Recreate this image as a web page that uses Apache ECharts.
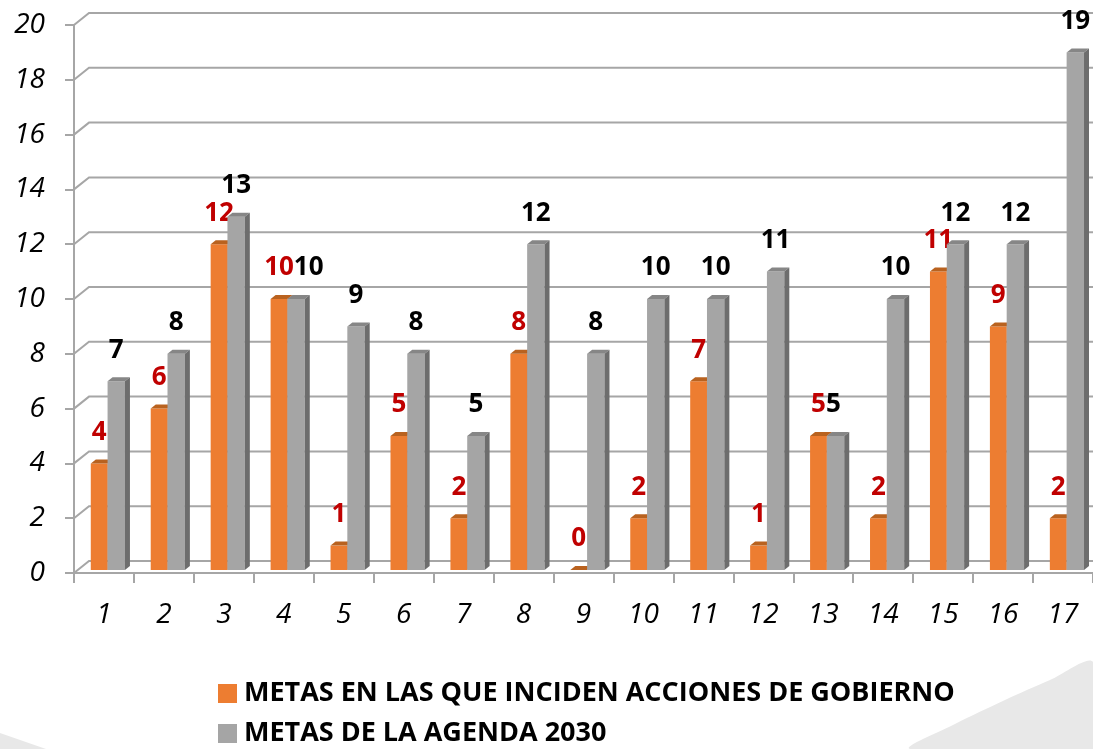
<!DOCTYPE html>
<html lang="es">
<head>
  <meta charset="UTF-8">
  <title>Metas Agenda 2030</title>
  <script src="https://cdn.jsdelivr.net/npm/echarts@6.0.0/dist/echarts.min.js"></script>
  <style>
    html, body { margin: 0; padding: 0; background: #fff; }
    #chart { width: 1093px; height: 749px; }
  </style>
</head>
<body>
<div id="chart"></div>
<script>
  // datos
  const categorias = ['1','2','3','4','5','6','7','8','9','10','11','12','13','14','15','16','17'];
  const metasGobierno = [4, 6, 12, 10, 1, 5, 2, 8, 0, 2, 7, 1, 5, 2, 11, 9, 2];
  const metasAgenda = [7, 8, 13, 10, 9, 8, 5, 12, 8, 10, 10, 11, 5, 10, 12, 12, 19];
  const yTicks = [0, 2, 4, 6, 8, 10, 12, 14, 16, 18, 20];

  const nombreGobierno = 'METAS EN LAS QUE INCIDEN ACCIONES DE GOBIERNO';
  const nombreAgenda = 'METAS DE LA AGENDA 2030';

  const labelFont = 'bold 26px "Open Sans", sans-serif';
  const axisFont = '"Open Sans", sans-serif';
  const gridColor = '#a6a6a6';

  // para medir etiquetas
  const ctx = document.createElement('canvas').getContext('2d');
  ctx.font = labelFont;
  const textWidth = t => ctx.measureText(t).width;

  // profundidad 3D
  const DX = 5, DY = -4;

  function barItem(colors, offset, widthRatio, labelColor, isGray) {
    return function (params, api) {
      const i = api.value(0);
      const v = api.value(1);
      const base = api.coord([i, 0]);
      const top = api.coord([i, v]);
      const bw = api.size([1, 0])[0];
      const x = base[0] + offset * bw;
      const w = widthRatio * bw;
      const yb = base[1] - 3;
      const yt = Math.min(top[1], yb);

      let lx = x + w / 2;
      if (isGray && metasGobierno[i] === v) {
        // etiquetas iguales: se colocan lado a lado
        const ox = base[0] - 0.22 * bw + 0.14 * bw;
        lx = ox + textWidth(String(v));
      }

      return {
        type: 'group',
        children: [
          { type: 'rect', shape: { x: x, y: yt, width: w, height: yb - yt }, style: { fill: colors[0] } },
          { type: 'polygon', shape: { points: [[x, yt], [x + w, yt], [x + w + DX, yt + DY], [x + DX, yt + DY]] }, style: { fill: colors[1] } },
          { type: 'polygon', shape: { points: [[x + w, yt], [x + w + DX, yt + DY], [x + w + DX, yb + DY], [x + w, yb]] }, style: { fill: colors[2] } },
          { type: 'text', style: { text: String(v), x: lx, y: yt - 18, align: 'center', verticalAlign: 'bottom', font: labelFont, fill: labelColor } }
        ]
      };
    };
  }

  function gridItem(params, api) {
    const cs = params.coordSys;
    const y = api.coord([0, api.value(1)])[1];
    return {
      type: 'polyline',
      shape: { points: [[cs.x, y], [cs.x + 15, y - 12], [cs.x + cs.width, y - 12]] },
      style: { stroke: gridColor, lineWidth: 2, fill: 'none' },
      silent: true
    };
  }

  const legendBase = {
    left: 218,
    padding: 0,
    itemWidth: 19,
    itemHeight: 19,
    icon: 'rect',
    textStyle: { fontFamily: axisFont, fontWeight: 'bold', fontSize: 27, color: '#000', padding: [0, 0, 0, 2] }
  };

  const chart = echarts.init(document.getElementById('chart'));

  const option = {
    backgroundColor: '#fff',
    animation: false,
    graphic: [
      {
        type: 'polygon',
        z: -10,
        shape: { points: [[910, 749], [955, 724], [1005, 700], [1050, 680], [1093, 662], [1093, 749]], smooth: 0.3 },
        style: { fill: '#e8e8e8' }
      },
      {
        type: 'polygon',
        z: -10,
        shape: { points: [[0, 733], [46, 749], [0, 749]] },
        style: { fill: '#e8e8e8' }
      }
    ],
    grid: { left: 74, right: 0, top: 25, bottom: 176 },
    legend: [
      Object.assign({}, legendBase, { data: [nombreGobierno], top: 680 }),
      Object.assign({}, legendBase, { data: [nombreAgenda], top: 720 })
    ],
    xAxis: {
      type: 'category',
      data: categorias,
      axisLine: { lineStyle: { color: gridColor, width: 2 } },
      axisTick: { show: true, length: 10, interval: 0, lineStyle: { color: gridColor, width: 2 } },
      axisLabel: { fontFamily: axisFont, fontStyle: 'italic', fontSize: 28, color: '#000', margin: 28, interval: 0 },
      splitLine: { show: false }
    },
    yAxis: {
      type: 'value',
      min: 0,
      max: 20,
      interval: 2,
      axisLine: { show: true, lineStyle: { color: gridColor, width: 2 } },
      axisTick: { show: true, length: 9, lineStyle: { color: gridColor, width: 2 } },
      axisLabel: { fontFamily: axisFont, fontStyle: 'italic', fontSize: 28, color: '#000', margin: 29 },
      splitLine: { show: false }
    },
    series: [
      {
        name: 'rejilla',
        type: 'custom',
        renderItem: gridItem,
        data: yTicks.map(v => [0, v]),
        encode: { x: 0, y: 1 },
        z: 1,
        silent: true
      },
      {
        name: nombreGobierno,
        type: 'custom',
        itemStyle: { color: '#ed7d31' },
        renderItem: barItem(['#ed7d31', '#b9621f', '#c4682a'], -0.22, 0.28, '#c00000', false),
        data: metasGobierno.map((v, i) => [i, v]),
        encode: { x: 0, y: 1 },
        z: 3
      },
      {
        name: nombreAgenda,
        type: 'custom',
        itemStyle: { color: '#a5a5a5' },
        renderItem: barItem(['#a5a5a5', '#868686', '#6d6d6d'], 0.06, 0.29, '#000', true),
        data: metasAgenda.map((v, i) => [i, v]),
        encode: { x: 0, y: 1 },
        z: 4
      }
    ]
  };

  chart.setOption(option);
</script>
</body>
</html>
